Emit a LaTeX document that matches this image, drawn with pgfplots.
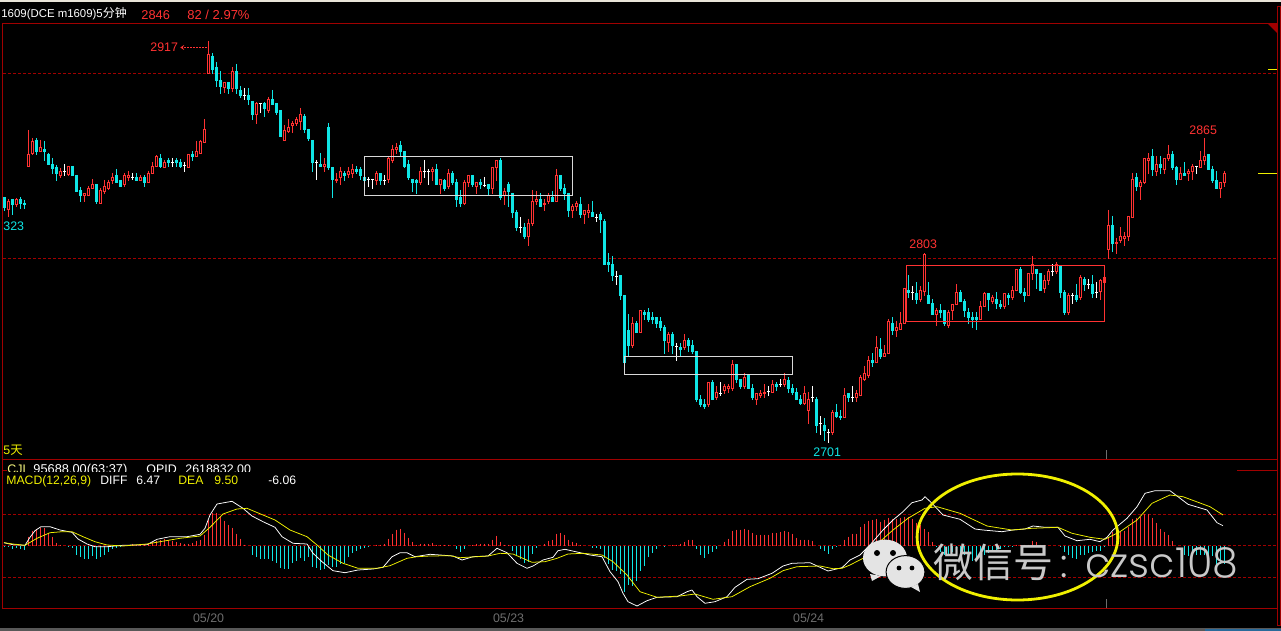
\documentclass[border=0pt]{standalone}
\usepackage{fontspec}
\usepackage{pgfplots}
\usepackage{pgfplotstable}
\pgfplotsset{compat=1.18}
\setmainfont{Liberation Sans}
\newfontfamily\cjk{Noto Sans CJK SC}
\newfontfamily\wm{Poppins Light}
\definecolor{kred}{HTML}{FF3232}
\definecolor{kcyan}{HTML}{0FE6E6}
\definecolor{frame}{HTML}{A00000}
\definecolor{kyel}{HTML}{F0F000}
\definecolor{dategray}{HTML}{6E6E6E}
\definecolor{wmgray}{HTML}{C8C8C8}
\definecolor{bubble}{HTML}{E4E4E4}
\definecolor{topstrip}{HTML}{E8E4D8}
\definecolor{botstrip}{HTML}{585858}
\definecolor{botblue}{HTML}{2A6A9A}

% all y values are screen rows of the quote window, x = candle number
\pgfplotstableread[row sep=crcr]{
k top bot hi lo\\
1 201 210 199 217\\ 3 199 205 198 207\\ 6 154 167 130 167\\ 7 141 154 138 155\\ 9 147 152 140 152\\
14 171 176 168 178\\ 16 166 175 166 176\\ 20 193 196 193 202\\ 21 188 196 186 196\\ 22 184 189 179 189\\
24 190 204 188 204\\ 25 186 192 180 194\\ 26 182 189 180 190\\ 27 177 181 173 184\\ 30 175 185 173 187\\
31 175 178 171 181\\ 34 177 181 175 181\\ 36 173 183 171 183\\ 37 166 174 162 174\\ 38 156 167 155 167\\
40 162 168 160 168\\ 46 154 168 154 168\\ 48 151 157 141 157\\ 49 141 154 140 154\\ 50 129 143 119 143\\
51 54 74 41 74\\ 55 82 88 82 93\\ 57 71 89 67 92\\ 63 103 115 102 124\\ 66 99 111 97 113\\
70 130 141 125 141\\ 71 127 132 119 133\\ 72 123 126 121 133\\ 73 119 124 117 126\\ 74 114 122 108 130\\
80 164 167 158 172\\ 83 179 181 173 183\\ 84 171 178 167 185\\ 86 171 175 167 178\\ 87 169 174 164 178\\
93 173 181 171 185\\ 96 158 180 157 183\\ 97 149 161 145 163\\ 98 147 150 143 154\\ 104 171 183 167 185\\
107 169 172 167 181\\ 109 179 185 179 194\\ 111 173 187 169 189\\ 115 182 204 180 205\\ 116 175 183 175 187\\
118 182 187 182 194\\ 122 167 189 167 194\\ 123 160 168 160 181\\ 125 191 196 188 205\\ 131 223 237 219 246\\
132 201 224 190 226\\ 133 199 202 191 205\\ 135 203 205 199 211\\ 136 195 202 193 204\\ 138 175 202 169 202\\
142 206 211 204 218\\ 143 203 207 201 211\\ 145 210 215 210 224\\ 146 210 213 204 218\\ 157 323 346 317 348\\
159 310 333 310 333\\ 166 334 343 332 352\\ 170 340 348 334 350\\ 176 382 405 382 407\\ 178 392 398 386 400\\
180 386 391 384 394\\ 181 386 389 384 393\\ 182 364 389 360 391\\ 185 377 387 373 389\\ 188 393 400 393 405\\
189 393 396 390 398\\ 190 392 394 384 398\\ 192 384 393 380 393\\ 195 379 385 373 387\\ 200 393 404 386 405\\
201 399 411 392 424\\ 207 412 433 410 435\\ 210 395 418 388 418\\ 213 393 398 390 402\\ 214 377 396 375 396\\
215 373 380 366 381\\ 216 360 376 356 378\\ 218 347 363 336 363\\ 220 353 357 345 357\\ 221 321 354 319 354\\
223 327 331 321 337\\ 224 323 330 312 330\\ 225 288 324 288 324\\ 229 290 300 286 302\\ 230 254 292 253 296\\
233 310 315 308 326\\ 236 312 326 310 328\\ 237 304 311 304 320\\ 238 292 305 284 305\\ 244 306 320 301 320\\
245 293 307 292 307\\ 247 297 302 295 304\\ 250 293 307 293 309\\ 252 290 298 286 300\\ 253 269 291 269 291\\
256 273 296 273 296\\ 257 264 274 256 280\\ 260 280 289 275 293\\ 261 271 281 269 285\\ 263 264 272 262 274\\
266 295 313 293 315\\ 269 277 298 275 300\\ 274 280 292 279 300\\ 276 225 250 210 259\\ 278 242 244 238 254\\
279 236 241 227 243\\ 280 236 239 232 246\\ 281 216 237 216 241\\ 282 179 218 173 218\\ 284 182 187 180 200\\
285 158 183 158 184\\ 286 158 161 153 174\\ 288 164 172 156 176\\ 290 158 170 158 174\\ 291 154 159 145 161\\
294 173 180 167 180\\ 296 171 174 169 181\\ 297 166 172 164 180\\ 299 160 168 151 168\\ 300 156 161 138 165\\
304 182 189 182 198\\ 305 173 183 171 187\\
}\redk

\pgfplotstableread[row sep=crcr]{
k top bot hi lo\\
0 197 208 197 211\\ 2 199 205 199 215\\ 4 199 204 197 209\\ 5 203 205 200 209\\ 8 140 152 138 155\\
10 149 152 141 161\\ 11 154 165 153 165\\ 12 164 169 158 174\\ 13 167 174 165 181\\ 17 166 176 166 176\\
18 175 192 175 192\\ 19 190 196 187 202\\ 23 184 202 184 204\\ 28 175 183 169 183\\ 29 180 187 180 187\\
33 177 181 173 181\\ 35 177 183 175 187\\ 39 158 167 154 168\\ 41 160 163 158 167\\ 43 160 163 158 167\\
44 162 167 159 168\\ 47 154 157 151 161\\ 52 56 70 53 74\\ 53 67 81 62 87\\ 54 80 87 71 94\\
56 82 89 82 94\\ 58 71 89 64 94\\ 59 90 96 86 98\\ 61 95 100 88 105\\ 62 101 115 101 120\\
65 103 109 102 117\\ 67 99 105 90 105\\ 68 103 113 103 115\\ 69 110 137 110 137\\ 75 116 130 114 133\\
76 129 139 129 141\\ 77 140 163 140 172\\ 79 164 167 153 167\\ 81 127 168 123 170\\ 82 167 180 167 198\\
85 173 176 171 181\\ 88 169 172 166 174\\ 89 169 176 167 180\\ 90 177 181 177 181\\ 94 173 181 173 185\\
99 145 152 141 156\\ 100 151 167 151 168\\ 101 164 178 160 180\\ 102 179 183 179 192\\ 103 180 183 179 194\\
108 169 185 164 185\\ 110 180 189 179 191\\ 112 173 183 171 185\\ 113 182 200 179 207\\ 114 197 204 190 207\\
117 175 185 175 187\\ 119 182 185 179 189\\ 121 184 189 184 195\\ 124 160 198 158 200\\ 126 184 192 182 207\\
127 193 213 193 218\\ 128 212 228 210 231\\ 130 227 237 223 239\\ 134 199 207 193 207\\ 137 197 202 191 202\\
139 175 189 175 191\\ 140 188 194 184 200\\ 141 193 211 193 217\\ 144 204 215 197 218\\ 147 212 217 201 217\\
149 214 220 212 233\\ 150 221 265 219 265\\ 151 262 265 253 272\\ 152 264 276 256 281\\ 154 275 296 275 300\\
155 295 363 295 363\\ 156 330 346 314 356\\ 158 323 333 321 333\\ 160 312 315 310 320\\ 161 312 320 308 322\\
162 317 320 312 324\\ 163 317 324 317 328\\ 164 321 328 317 331\\ 165 327 341 325 354\\ 167 334 346 332 354\\
169 347 350 343 356\\ 171 340 346 338 352\\ 172 345 352 340 354\\ 173 351 400 351 402\\ 174 399 405 395 407\\
175 404 407 399 409\\ 177 382 400 380 400\\ 183 364 380 364 383\\ 184 379 387 379 389\\ 186 375 389 375 389\\
187 388 398 384 400\\ 193 384 387 382 391\\ 196 380 389 377 393\\ 197 388 393 384 395\\ 198 392 400 388 400\\
199 399 404 395 405\\ 203 399 426 397 433\\ 205 425 431 418 441\\ 208 412 417 404 418\\ 209 416 418 410 420\\
211 393 398 393 402\\ 217 360 363 353 367\\ 219 349 357 338 359\\ 222 323 331 317 335\\ 226 290 293 275 298\\
228 293 300 282 304\\ 231 295 304 282 304\\ 232 303 315 299 315\\ 234 310 313 304 318\\ 235 310 324 310 326\\
239 292 302 290 302\\ 240 301 311 299 317\\ 241 312 318 308 324\\ 242 317 320 312 328\\ 243 317 320 312 330\\
246 293 300 293 311\\ 248 299 304 292 309\\ 249 304 307 300 309\\ 251 295 298 293 305\\ 254 269 293 267 294\\
255 292 296 288 302\\ 258 269 274 269 289\\ 259 273 291 273 291\\ 264 266 293 266 298\\ 265 292 313 290 315\\
268 295 300 284 302\\ 270 279 285 277 291\\ 272 284 294 275 298\\ 277 225 244 216 252\\ 283 177 187 173 191\\
287 156 170 149 176\\ 289 164 168 156 174\\ 292 154 168 151 170\\ 293 167 180 166 185\\ 295 173 176 162 176\\
301 154 170 154 170\\ 302 169 181 166 183\\ 303 180 189 171 189\\
}\cyank

\pgfplotstableread[row sep=crcr]{
k top bot hi lo\\
15 171 172 164 176\\ 32 177 178 173 180\\ 42 162 163 158 167\\ 45 165 166 162 172\\ 60 95 96 88 100\\
64 103 104 103 113\\ 78 162 163 160 180\\ 91 179 180 177 187\\ 92 179 180 179 189\\ 95 180 181 175 185\\
105 171 172 160 178\\ 106 171 172 169 185\\ 120 185 186 177 187\\ 129 227 228 217 233\\ 148 217 218 214 222\\
153 276 277 271 285\\ 168 346 347 343 361\\ 179 393 394 382 396\\ 191 391 392 386 396\\ 194 384 385 379 387\\
202 397 398 386 402\\ 204 423 424 416 435\\ 206 432 433 429 443\\ 212 397 398 386 402\\ 227 292 293 286 300\\
262 271 272 264 276\\ 267 295 296 293 304\\ 271 284 285 279 289\\ 273 292 293 282 298\\ 298 166 167 166 174\\
}\whitek

% MACD histogram, bar length in rows from the zero line
\pgfplotstableread[row sep=crcr]{
k v\\
6 9\\ 7 15\\ 8 17\\ 9 18\\ 10 18\\ 11 13\\ 12 9\\ 13 3\\ 14 1\\ 31 1\\ 32 2\\ 33 1\\ 34 2\\ 35 2\\ 36 2\\ 37 4\\ 38 5\\ 39 6\\ 40 7\\ 41 6\\
42 5\\ 43 4\\ 44 3\\ 45 2\\ 46 2\\ 47 3\\ 48 5\\ 49 6\\ 50 11\\ 51 26\\ 52 33\\ 53 33\\ 54 29\\ 55 25\\ 56 21\\ 57 18\\ 58 12\\ 59 7\\ 60 1\\
93 1\\ 94 1\\ 95 2\\ 96 7\\ 97 12\\ 98 16\\ 99 17\\ 100 13\\ 101 8\\ 102 4\\ 103 1\\ 104 2\\ 105 2\\ 106 2\\ 107 3\\ 108 1\\ 109 1\\ 110 1\\ 111 1\\
117 1\\ 118 2\\ 119 2\\ 120 2\\ 121 2\\ 122 6\\ 123 10\\ 124 4\\ 125 1\\ 126 1\\ 135 2\\ 136 5\\ 137 6\\ 138 12\\ 139 13\\ 140 11\\ 141 6\\ 142 4\\ 143 3\\ 144 1\\
167 1\\ 168 1\\ 169 2\\ 170 4\\ 171 6\\ 172 6\\ 180 4\\ 181 7\\ 182 15\\ 183 16\\ 184 16\\ 185 17\\ 186 16\\ 187 13\\ 188 11\\ 189 11\\ 190 11\\ 191 11\\ 192 13\\ 193 13\\
194 14\\ 195 15\\ 196 14\\ 197 12\\ 198 8\\ 199 6\\ 200 6\\ 201 6\\ 202 5\\ 209 1\\ 210 6\\ 211 9\\ 212 12\\ 213 12\\ 214 19\\ 215 22\\ 216 25\\ 217 26\\ 218 27\\ 219 24\\
220 26\\ 221 28\\ 222 27\\ 223 27\\ 224 28\\ 225 29\\ 226 29\\ 227 27\\ 228 23\\ 229 21\\ 230 17\\ 231 14\\ 232 4\\ 253 1\\ 254 1\\ 255 1\\ 256 1\\ 257 5\\ 258 4\\ 259 1\\ 260 1\\
276 9\\ 277 14\\ 278 18\\ 279 14\\ 280 15\\ 281 19\\ 282 27\\ 283 28\\ 284 29\\ 285 32\\ 286 32\\ 287 28\\ 288 23\\ 289 17\\ 290 14\\ 291 11\\ 292 5\\
}\macdup

\pgfplotstableread[row sep=crcr]{
k v\\
0 1\\ 1 1\\ 2 3\\ 3 2\\ 4 3\\ 5 4\\ 16 1\\ 17 2\\ 18 9\\ 19 11\\ 20 13\\ 21 13\\ 22 10\\ 23 13\\ 24 11\\ 25 9\\ 26 6\\ 27 3\\ 28 2\\ 29 1\\
62 9\\ 63 11\\ 64 13\\ 65 13\\ 66 13\\ 67 15\\ 68 17\\ 69 22\\ 70 23\\ 71 23\\ 72 17\\ 73 15\\ 74 12\\ 75 15\\ 76 11\\ 77 21\\ 78 22\\ 79 24\\ 80 23\\ 81 19\\ 82 21\\ 83 21\\
84 18\\ 85 17\\ 86 11\\ 87 7\\ 88 5\\ 89 3\\ 90 2\\ 91 1\\ 113 3\\ 114 6\\ 115 3\\ 127 5\\ 128 10\\ 129 13\\ 130 17\\ 131 16\\ 132 8\\ 133 2\\
147 2\\ 148 2\\ 149 3\\ 150 12\\ 151 18\\ 152 24\\ 153 25\\ 154 28\\ 155 46\\ 156 39\\ 157 40\\ 158 35\\ 159 25\\ 160 20\\ 161 11\\ 162 7\\ 163 3\\ 165 1\\
173 3\\ 174 9\\ 175 12\\ 176 8\\ 177 6\\ 178 3\\ 204 3\\ 205 5\\ 206 8\\ 207 3\\ 208 1\\ 233 1\\ 234 6\\ 235 9\\ 236 9\\ 237 6\\ 238 7\\ 239 9\\ 240 9\\ 241 10\\ 242 15\\ 243 15\\
244 13\\ 245 9\\ 246 7\\ 247 6\\ 248 5\\ 249 3\\ 250 1\\ 251 1\\ 252 1\\ 264 1\\ 265 6\\ 266 9\\ 267 12\\ 268 13\\ 269 9\\ 270 9\\ 271 7\\ 272 6\\ 273 5\\ 274 5\\ 275 1\\
295 9\\ 296 10\\ 297 10\\ 298 9\\ 299 9\\ 300 9\\ 301 13\\ 302 10\\ 303 19\\ 304 18\\ 305 18\\
}\macddown

\pgfplotsset{
  kwick/.style={draw=none,mark=none,forget plot,
    error bars/y dir=plus,error bars/y explicit,error bars/error mark=none,
    error bars/error bar style={draw=#1,line width=0.5pt}},
  kbody/.style={draw=none,mark=none,forget plot,
    error bars/y dir=plus,error bars/y explicit,error bars/error mark=none,
    error bars/error bar style={draw=#1,line width=1.5pt}},
}
\tikzset{px/.style={font=\fontsize{#1}{#1}\selectfont,inner sep=0pt,anchor=base west}}

\begin{document}
\begin{tikzpicture}
\begin{axis}[
  hide axis,scale only axis,width=640.5pt,height=315.5pt,
  xmin=0,xmax=1281,ymin=0,ymax=631,y dir=reverse,clip=true,
  every axis plot/.append style={line join=round},
]
% window
\fill[black] (axis cs:0,0) rectangle (axis cs:1281,631);
\fill[topstrip] (axis cs:0,0) rectangle (axis cs:1281,2.5);
\fill[botstrip] (axis cs:0,628) rectangle (axis cs:1281,631);
\fill[botblue] (axis cs:1205,629) rectangle (axis cs:1281,631);
\draw[frame,line width=0.5pt] (axis cs:2.5,23.5) -- (axis cs:1277.5,23.5);
\draw[frame,line width=0.5pt] (axis cs:2.5,23.5) -- (axis cs:2.5,608.5) -- (axis cs:1277.5,608.5);
\draw[frame,line width=0.5pt] (axis cs:2.5,459.5) -- (axis cs:1277.5,459.5);
\draw[frame,line width=0.5pt] (axis cs:1277.5,6.5) rectangle (axis cs:1280.5,625);
\fill[frame] (axis cs:1268,24) -- (axis cs:1277,24) -- (axis cs:1277,33) -- cycle;
\draw[frame,line width=0.5pt] (axis cs:1237,470.5) -- (axis cs:1277,470.5);
\draw[frame,line width=0.5pt] (axis cs:3,470.5) -- (axis cs:7,470.5);
\draw[kyel,line width=0.5pt] (axis cs:1268,69.5) -- (axis cs:1277,69.5);
\draw[kyel,line width=0.5pt] (axis cs:1258,173.5) -- (axis cs:1277,173.5);
\draw[dategray,line width=0.5pt] (axis cs:1106.5,450) -- (axis cs:1106.5,459);
\draw[dategray,line width=0.5pt] (axis cs:1106.5,599) -- (axis cs:1106.5,608);
\foreach \yy in {73.5,258.5,514.5,545.5,577.5}{
  \edef\temp{\noexpand\draw[frame,line width=0.5pt,dash pattern=on 1.5pt off 1pt] (axis cs:3,\yy) -- (axis cs:1276,\yy);}\temp
}

% candles
\addplot[kwick=kred] table[x expr=4.5+4*\thisrow{k},y=hi,y error expr=\thisrow{lo}-\thisrow{hi}] {\redk};
\addplot[kwick=kcyan] table[x expr=4.5+4*\thisrow{k},y=hi,y error expr=\thisrow{lo}-\thisrow{hi}] {\cyank};
\addplot[kwick=white] table[x expr=4.5+4*\thisrow{k},y=hi,y error expr=\thisrow{lo}-\thisrow{hi}] {\whitek};
\addplot[kbody=kred] table[x expr=4.5+4*\thisrow{k},y=top,y error expr=\thisrow{bot}-\thisrow{top}] {\redk};
\addplot[kwick=black] table[x expr=4.5+4*\thisrow{k},y expr=\thisrow{top}+1,y error expr={max(\thisrow{bot}-\thisrow{top}-2,0)}] {\redk};
\addplot[kbody=kcyan] table[x expr=4.5+4*\thisrow{k},y=top,y error expr=\thisrow{bot}-\thisrow{top}] {\cyank};
\addplot[kbody=white] table[x expr=4.5+4*\thisrow{k},y=top,y error expr=\thisrow{bot}-\thisrow{top}] {\whitek};
\addplot[kbody=kred] table[x expr=4.5+4*\thisrow{k},y=top,y error expr=\thisrow{bot}-\thisrow{top}] {
k top bot
275 277 283
};

% boxes
\draw[white!85!black,line width=0.5pt] (axis cs:364.5,156.5) rectangle (axis cs:572.5,195.5);
\draw[white!85!black,line width=0.5pt] (axis cs:624.5,356.5) rectangle (axis cs:792.5,374.5);
\draw[kred,line width=0.5pt] (axis cs:906.5,265.5) rectangle (axis cs:1104.5,321.5);

% MACD
\addplot[kwick=kred] table[x expr=4.5+4*\thisrow{k},y expr=545.5-\thisrow{v},y error expr=\thisrow{v}] {\macdup};
\addplot[kwick=kcyan] table[x expr=4.5+4*\thisrow{k},y expr=546,y error expr=\thisrow{v}] {\macddown};
\addplot[white,line width=0.38pt,forget plot] coordinates {
(4,542.7)(13,544.7)(25,545.3)(30,537.3)(35,530.7)(41,526.7)(50,526.7)(60,530)(72,532.3)(78,539)(87,544)(95,546.7)(107,546.7)(123,545.3)(147,544.7)(157,539.3)(170,536.7)(187,536.7)(200,534.3)(205,528.3)(210,515)(217,504)(232,501.3)(243,508.3)(252,516)(263,521.7)(275,527.3)(282,536.7)(293,543.3)(307,544)(313,553.3)(322,561.7)(333,570.7)(345,572.7)(358,570)(373,569)(383,567.3)(392,556.7)(400,552.7)(407,552.7)(415,556.7)(430,554.3)
(440,555)(453,556)(462,560)(473,556.7)(488,556)(497,548.3)(507,552.7)(517,563.3)(527,568.3)(533,566)(543,560)(553,557.3)(558,550.7)(565,549.3)(577,552)(590,555)(602,556.7)(610,571.7)(618,581.7)(623,593.3)(628,601.7)(637,606)(647,600.7)(657,597.3)(677,596.7)(687,591.7)(692,590)(697,596.7)(705,603.3)(715,601.7)(727,596.7)(735,587.3)(747,579.3)(758,578.7)(772,573.3)(783,566)(792,563.3)(810,562.7)(820,567.3)(828,571)(842,567.7)
(850,560)(860,555)(870,545)(883,530)(893,520)(903,511.7)(912,502.7)(922,500)(925,496.7)(932,503.3)(943,515)(960,519.3)(975,529)(983,530)(1002,531.7)(1013,530)(1025,529)(1033,526)(1045,527.3)(1058,527.3)(1065,536)(1077,540.7)(1090,539.3)(1100,541.7)(1107,537.3)(1113,530)(1127,518.3)(1137,506.7)(1145,493.3)(1155,490.7)(1170,490.7)(1178,496.7)(1188,504.3)(1207,510)(1217,522.7)(1223,525.7)
};
\addplot[kyel,line width=0.38pt,forget plot] coordinates {
(4,542.7)(13,544)(25,545.3)(37,538.3)(50,532.7)(62,531.7)(72,531.7)(83,536.7)(95,541.7)(107,545)(123,546)(147,544)(160,541.7)(180,538.3)(200,536)(210,527.3)(223,514)(237,509)(247,508.3)(263,515)(275,520)(290,530)(307,536.7)(317,545)(328,555)(343,563.3)(358,568.3)(377,568.3)(390,565.7)(407,558.3)(417,556.7)(430,556)
(450,555.7)(460,557.7)(488,556)(500,553.3)(513,554)(532,562.3)(545,561.7)(557,558.3)(568,554)(583,553.3)(602,555)(613,561.7)(627,575)(640,591.7)(657,597.3)(680,596)(695,594)(713,599.3)(732,596.7)(750,586.7)(770,578.3)(783,570.7)(797,566.7)(820,566)(833,568.7)(842,568.3)
(850,565)(863,558.3)(878,543.3)(893,530)(908,518.3)(925,508.3)(937,506.7)(960,513.3)(987,526)(1012,530)(1032,528.3)(1058,527.3)(1072,533.3)(1090,537.3)(1105,539.3)(1120,531.7)(1137,520)(1152,503.3)(1170,495)(1183,496.7)(1210,506.7)(1223,515)
};

% texts
\node[px=5.7,white] at (axis cs:1,18) {1609(DCE m1609)5\fontsize{6}{6}\selectfont\cjk 分钟};
\node[px=6.4,kred] at (axis cs:141,20) {2846};
\node[px=6.5,kred] at (axis cs:187,20) {82 / 2.97\%};
\node[px=6.2,kred] at (axis cs:150,52) {2917};
\draw[kred,line width=0.4pt,dash pattern=on 1pt off 0.5pt] (axis cs:181,47.5) -- (axis cs:208,47.5);
\draw[kred,line width=0.4pt] (axis cs:184,45.5) -- (axis cs:181,47.5) -- (axis cs:184,49.5);
\node[px=6.2,kcyan] at (axis cs:3,230) {323};
\node[px=6.2,kyel] at (axis cs:3,454) {5\cjk 天};
\node[px=6.2,kred] at (axis cs:909,249) {2803};
\node[px=6.2,kcyan] at (axis cs:813,456) {2701};
\node[px=6.2,kred] at (axis cs:1189,134) {2865};
\node[px=6.2,kyel!50!white] at (axis cs:7,473) {CJL};
\node[px=6.4,white] at (axis cs:33,473) {95688.00(63:37)};
\node[px=6.2,white] at (axis cs:146,473) {OPID};
\node[px=6.2,white] at (axis cs:185,473) {2618832.00};
\fill[black] (axis cs:3,472) rectangle (axis cs:300,487);
\node[px=6.1,kyel] at (axis cs:6,484) {MACD(12,26,9)};
\node[px=6.1,white] at (axis cs:100,484) {DIFF};
\node[px=6.1,white] at (axis cs:136,484) {6.47};
\node[px=6.1,kyel] at (axis cs:178,484) {DEA};
\node[px=6.1,kyel] at (axis cs:214,484) {9.50};
\node[px=6.1,white] at (axis cs:268,484) {-6.06};
\node[px=6.2,dategray] at (axis cs:192.7,622) {05/20};
\node[px=6.2,dategray] at (axis cs:492.7,622) {05/23};
\node[px=6.2,dategray] at (axis cs:792.7,622) {05/24};

% ringed area and watermark
\draw[kyel,line width=1.4pt] (axis cs:1017.5,537) ellipse [x radius=50.2pt,y radius=31.5pt];
\fill[bubble] (axis cs:885,558) ellipse [x radius=11pt,y radius=9.2pt];
\fill[bubble] (axis cs:870,574) -- (axis cs:872,581) -- (axis cs:881,576) -- cycle;
\filldraw[fill=bubble,draw=black,line width=0.5pt] (axis cs:905.5,572) ellipse [x radius=9.7pt,y radius=8.2pt];
\fill[bubble] (axis cs:911,587) -- (axis cs:920,592) -- (axis cs:918,584) -- cycle;
\fill[black] (axis cs:877,553) circle (1.5pt) (axis cs:893,553) circle (1.5pt);
\fill[black] (axis cs:899,568) circle (1.2pt) (axis cs:912,568) circle (1.2pt);
\node[px=20,wmgray] at (axis cs:933,577) {\cjk 微信号};
\node[px=20,wmgray] at (axis cs:1060,577) {\wm :};
\node[px=20.6,wmgray] at (axis cs:1085,577) {\wm czsc108};
\end{axis}
\end{tikzpicture}
\end{document}
